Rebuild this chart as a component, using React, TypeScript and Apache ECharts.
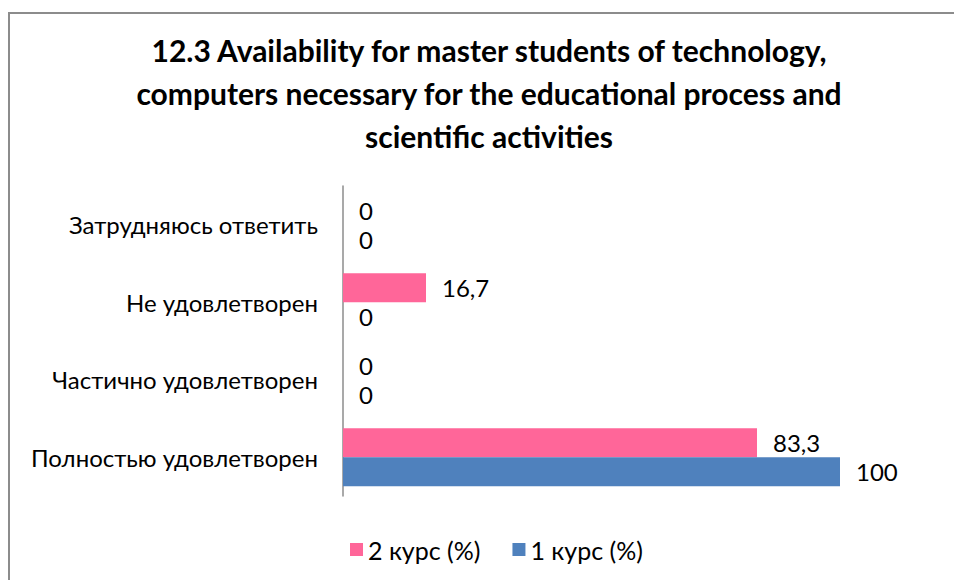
import React, { useEffect, useRef } from "react";
import * as echarts from "echarts";

const categories = [
  "Полностью удовлетворен",
  "Частично удовлетворен",
  "Не удовлетворен",
  "Затрудняюсь ответить",
];
const course2 = [83.3, 0, 16.7, 0];
const course1 = [100, 0, 0, 0];
const seriesNames = ["2 курс (%)", "1 курс (%)"];
const titleText =
  "12.3 Availability for master students of technology,\ncomputers necessary for the educational process and\nscientific activities";

const FONT = "Lato, 'Noto Sans', sans-serif";

export default function App() {
  const ref = useRef<HTMLDivElement>(null);
  useEffect(() => {
    document.body.style.margin = "0";
    document.body.style.overflow = "hidden";
    const chart = echarts.init(ref.current!, null, { renderer: "svg" });
    const label = {
      show: true,
      position: "right",
      distance: 16,
      fontSize: 24,
      color: "#000",
      fontFamily: FONT,
      formatter: (p: any) => String(p.value).replace(".", ","),
    };
    chart.setOption({
      animation: false,
      textStyle: { fontFamily: FONT },
      title: {
        text: titleText,
        left: 484,
        top: 23,
        textAlign: "center",
        textStyle: {
          fontSize: 30,
          fontWeight: "bold",
          color: "#000",
          lineHeight: 43,
          fontFamily: FONT,
        },
      },
      graphic: [
        {
          type: "rect",
          shape: { x: 9, y: 13, width: 2000, height: 2000 },
          style: { fill: "none", stroke: "#8c8c8c", lineWidth: 2 },
          silent: true,
        },
      ],
      legend: {
        data: seriesNames,
        left: 345,
        top: 532,
        icon: "rect",
        itemWidth: 13,
        itemHeight: 13,
        itemGap: 32,
        textStyle: { fontSize: 25, color: "#000", fontFamily: FONT },
      },
      grid: { left: 343, right: 114, top: 186, bottom: 84 },
      xAxis: {
        type: "value",
        min: 0,
        max: 100,
        show: false,
      },
      yAxis: {
        type: "category",
        data: categories,
        axisTick: { show: false },
        axisLine: { lineStyle: { color: "#8c8c8c", width: 1.5 } },
        axisLabel: { fontSize: 24, color: "#000", margin: 25, fontFamily: FONT },
      },
      series: [
        {
          name: seriesNames[0],
          type: "bar",
          data: course2,
          barGap: "0%",
          barCategoryGap: "25%",
          itemStyle: { color: "#FF6699" },
          label,
        },
        {
          name: seriesNames[1],
          type: "bar",
          data: course1,
          barGap: "0%",
          barCategoryGap: "25%",
          itemStyle: { color: "#4F81BD" },
          label,
        },
      ],
    });
    return () => chart.dispose();
  }, []);
  return <div ref={ref} style={{ width: 954, height: 580 }} />;
}
